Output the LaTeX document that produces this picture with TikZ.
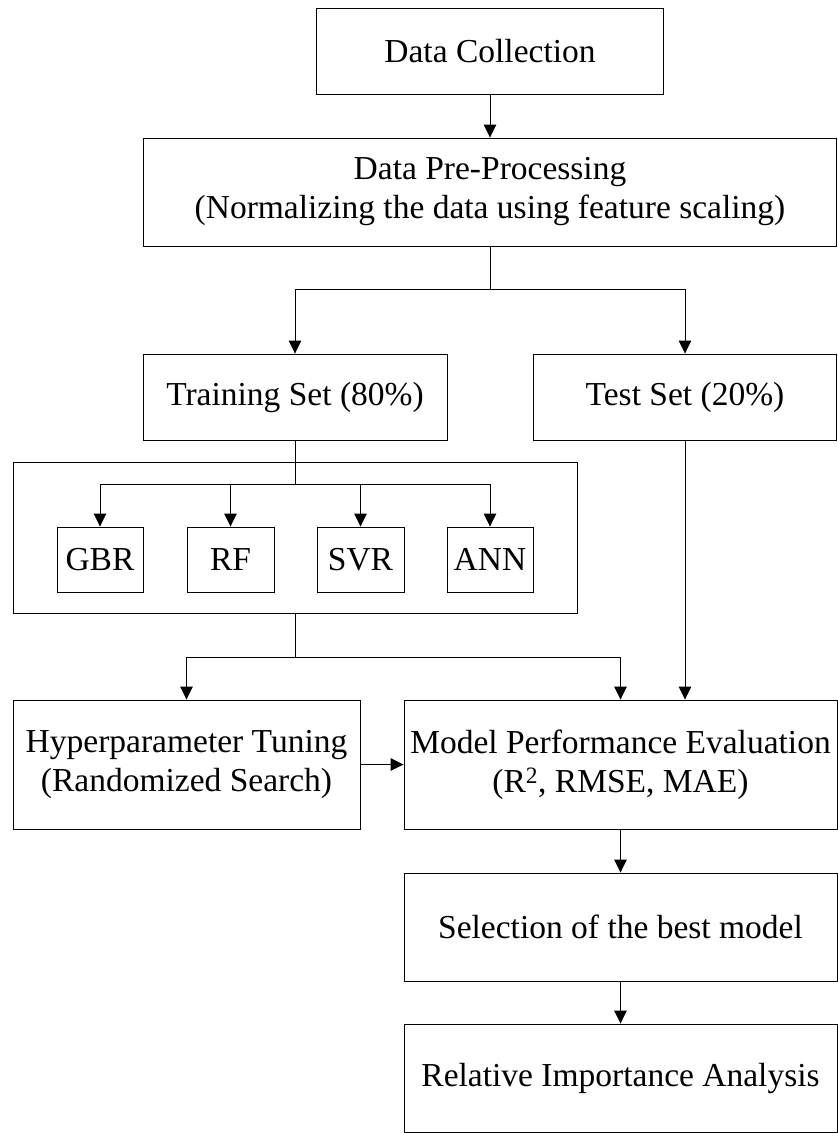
\documentclass[tikz,border=0pt]{standalone}
\usepackage{fontspec}
\setmainfont{Liberation Serif}
\usetikzlibrary{arrows.meta}

\begin{document}
\begin{tikzpicture}[x=1pt,y=-1pt,
  stage/.style={draw=black, line width=0.9pt, inner sep=0pt, align=center,
    font=\fontsize{33.5}{39}\selectfont},
  flow/.style={line width=0.9pt, -{Triangle[length=13pt,width=12.5pt]}},
  link/.style={line width=0.9pt}]
\useasboundingbox (0,0) rectangle (838,1133);

% main pipeline
\node[stage, minimum width=347pt, minimum height=86pt] (dc) at (490,51) {Data Collection};
\node[stage, minimum width=693pt, minimum height=108pt] (pp) at (490,192)
  {Data Pre-Processing\\(Normalizing the data using feature scaling)};
\node[stage, minimum width=304pt, minimum height=86pt] (train) at (295,397) {Training Set (80\%)};
\node[stage, minimum width=303pt, minimum height=86pt] (test) at (685,397) {Test Set (20\%)};

% model group
\node[stage, minimum width=564pt, minimum height=151pt] (models) at (295,537.5) {};
\node[stage, minimum width=86pt, minimum height=65pt] (gbr) at (100,559.5) {GBR};
\node[stage, minimum width=87pt, minimum height=65pt] (rf) at (230.5,559.5) {RF};
\node[stage, minimum width=87pt, minimum height=65pt] (svr) at (360.5,559.5) {SVR};
\node[stage, minimum width=86pt, minimum height=65pt] (ann) at (490,559.5) {ANN};

\node[stage, minimum width=347pt, minimum height=129pt] (hyper) at (186.5,764.5)
  {Hyperparameter Tuning\\(Randomized Search)};
\node[stage, minimum width=433pt, minimum height=129pt] (eval) at (620.5,764.5)
  {Model Performance Evaluation\\(R\textsuperscript{2}, RMSE, MAE)};
\node[stage, minimum width=433pt, minimum height=108pt] (best) at (620.5,927) {Selection of the best model};
\node[stage, minimum width=433pt, minimum height=108pt] (rel) at (620.5,1078) {Relative Importance Analysis};

% junction points
\coordinate (j1) at (490,289);
\coordinate (j2) at (295,484);
\coordinate (j3) at (295,657);

% connectors
\draw[flow] (dc) -- (pp);
\draw[link] (pp.south) -- (j1);
\draw[flow] (j1) -| (train.north);
\draw[flow] (j1) -| (test.north);

\draw[link] (train.south) -- (j2);
\draw[flow] (j2) -| (gbr.north);
\draw[flow] (j2) -| (rf.north);
\draw[flow] (j2) -| (svr.north);
\draw[flow] (j2) -| (ann.north);

\draw[link] (models.south) -- (j3);
\draw[flow] (j3) -| (hyper.north);
\draw[flow] (j3) -| (eval.north);
\draw[flow] (test.south) -- (test.south |- eval.north);

\draw[flow] (hyper.east) -- (eval.west);
\draw[flow] (eval) -- (best);
\draw[flow] (best) -- (rel);
\end{tikzpicture}
\end{document}
